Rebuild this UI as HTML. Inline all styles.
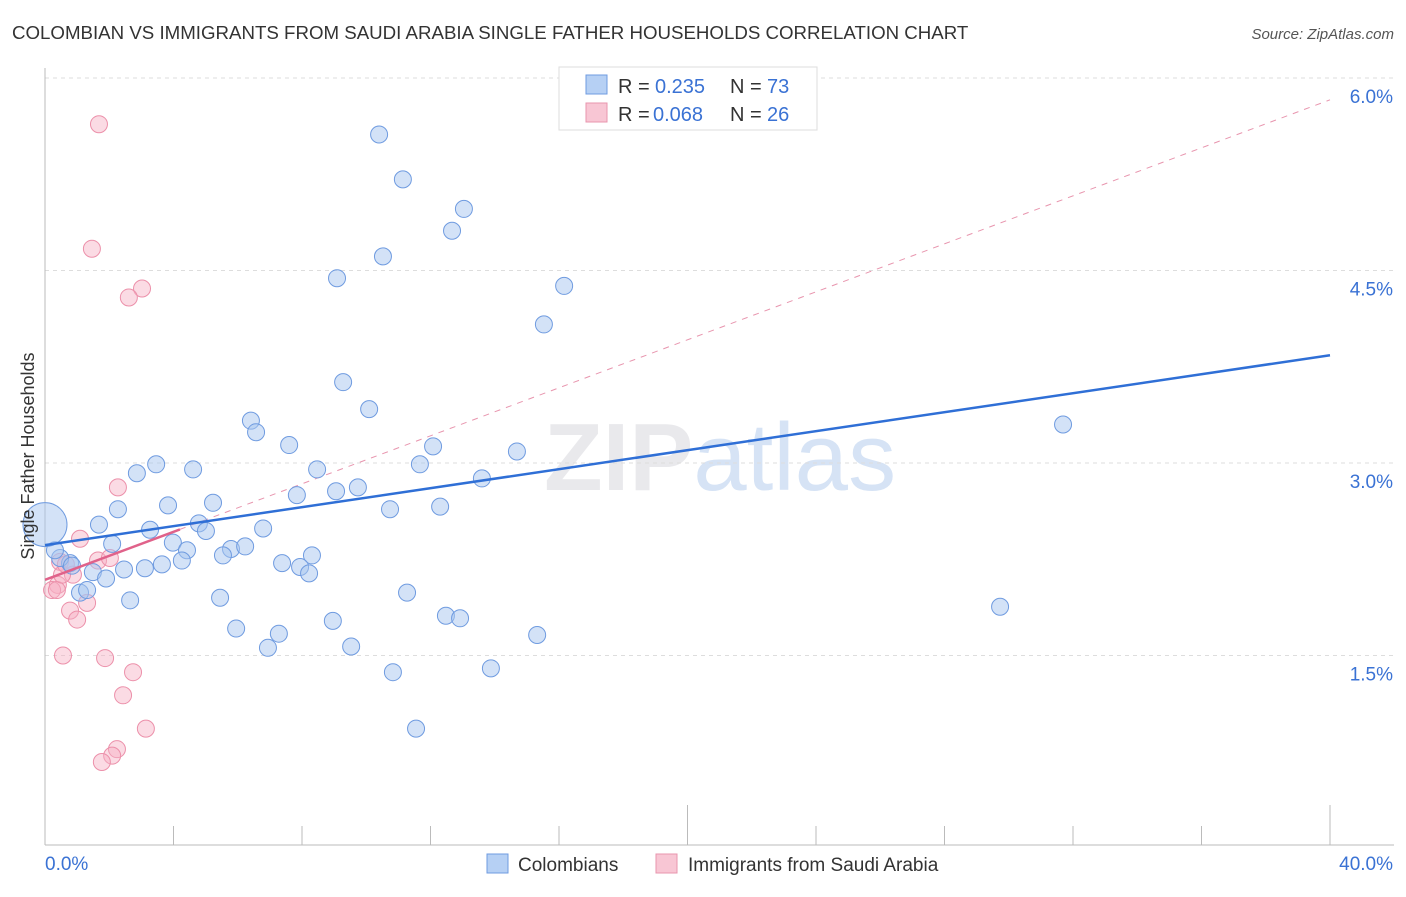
<!DOCTYPE html>
<html><head><meta charset="utf-8"><style>
body{margin:0;background:#fff;font-family:"Liberation Sans",sans-serif;}
svg text{font-family:"Liberation Sans",sans-serif;}
</style></head><body>
<svg id="chart" width="1406" height="892" xmlns="http://www.w3.org/2000/svg">
<text x="12" y="39" font-size="18.7" fill="#333">COLOMBIAN VS IMMIGRANTS FROM SAUDI ARABIA SINGLE FATHER HOUSEHOLDS CORRELATION CHART</text>
<text x="1394" y="39" font-size="15" fill="#555" font-style="italic" text-anchor="end">Source: ZipAtlas.com</text>
<text x="720" y="490" font-size="96" text-anchor="middle" fill="#e9e9ec" font-family="Liberation Serif"><tspan font-weight="bold">ZIP</tspan><tspan fill="#d6e3f5" font-family="Liberation Sans">atlas</tspan></text>
<g id="grid"></g>
<g id="axes"></g>
<g id="trend"></g>
<g id="points"></g>
<text transform="translate(34,456) rotate(-90)" font-size="18" fill="#333" text-anchor="middle">Single Father Households</text>
<g>
<rect x="559" y="67" width="258" height="63" fill="#fff" stroke="#ddd"/>
<rect x="586" y="75" width="21" height="19" fill="#b6d0f4" stroke="#6f9be0"/>
<rect x="586" y="103" width="21" height="19" fill="#f8c6d4" stroke="#e895ae"/>
<text x="618" y="93" font-size="20" fill="#333">R =</text>
<text x="655" y="93" font-size="20" fill="#3a72d4">0.235</text>
<text x="730" y="93" font-size="20" fill="#333">N =</text>
<text x="767" y="93" font-size="20" fill="#3a72d4">73</text>
<text x="618" y="121" font-size="20" fill="#333">R =</text>
<text x="653" y="121" font-size="20" fill="#3a72d4">0.068</text>
<text x="730" y="121" font-size="20" fill="#333">N =</text>
<text x="767" y="121" font-size="20" fill="#3a72d4">26</text>
</g>
<g>
<rect x="487" y="854" width="21" height="19" fill="#b6d0f4" stroke="#6f9be0"/>
<text x="518" y="871" font-size="19" fill="#333">Colombians</text>
<rect x="656" y="854" width="21" height="19" fill="#f8c6d4" stroke="#e895ae"/>
<text x="688" y="871" font-size="19" fill="#333">Immigrants from Saudi Arabia</text>
</g>
</svg>
<script>
const xTicks=[0,40];
const yTicks=[1.5,3.0,4.5,6.0];
const blueX=[10.40,11.14,13.04,12.67,10.52,9.09,16.16,15.53,9.28,10.09,31.69,6.41,6.57,7.60,12.08,14.69,3.46,4.61,2.86,11.67,8.47,13.60,9.74,9.06,7.84,5.23,3.83,2.27,12.30,10.74,1.68,4.79,3.27,6.79,5.01,2.09,3.98,4.42,5.79,6.23,5.54,8.31,4.26,7.38,3.64,3.11,2.46,7.94,8.22,1.49,1.90,0.78,0.47,0.84,0.31,1.09,2.65,5.45,11.27,29.73,12.48,12.92,8.96,5.95,7.28,15.32,6.94,9.53,10.83,13.88,11.55,1.31,0];
const blueY=[5.56,5.21,4.98,4.81,4.61,4.44,4.38,4.08,3.63,3.42,3.30,3.33,3.24,3.14,3.13,3.09,2.99,2.95,2.92,2.99,2.95,2.88,2.81,2.78,2.75,2.69,2.67,2.64,2.66,2.64,2.52,2.53,2.48,2.49,2.47,2.37,2.38,2.32,2.33,2.35,2.28,2.28,2.24,2.22,2.21,2.18,2.17,2.19,2.14,2.15,2.10,2.22,2.26,2.20,2.32,1.99,1.93,1.95,1.99,1.88,1.81,1.79,1.77,1.71,1.67,1.66,1.56,1.57,1.37,1.40,0.93,2.01,2.52];
const pinkX=[1.68,1.46,3.02,2.61,2.27,1.09,1.65,2.02,0.47,0.87,0.40,0.22,0.37,1.31,0.78,1.00,0.56,1.87,2.74,2.43,3.14,2.24,2.09,1.77,0.53,0.65];
const pinkY=[5.64,4.67,4.36,4.29,2.81,2.41,2.24,2.26,2.23,2.13,2.05,2.01,2.01,1.91,1.85,1.78,1.50,1.48,1.37,1.19,0.93,0.77,0.72,0.67,2.13,2.21];
const blueTrend=[2.36,3.84];
const pinkTrend=[2.09,5.83];
const pinkSolidEnd=[4.2];
const NS="http://www.w3.org/2000/svg";
const sx=v=>45+v*32.125, sy=v=>848-v*128.33;
function mk(tag,attrs,parent){const e=document.createElementNS(NS,tag);for(const k in attrs)e.setAttribute(k,attrs[k]);parent.appendChild(e);return e;}
const grid=document.getElementById('grid'),axes=document.getElementById('axes'),trend=document.getElementById('trend'),pts=document.getElementById('points');
yTicks.forEach(t=>{const l=mk('line',{x1:45,x2:1394,y1:sy(t),y2:sy(t),stroke:'#ddd','stroke-dasharray':'4,4'},grid);


const tx=mk('text',{x:1393,y:sy(t)+25,'font-size':19,fill:'#3a72d4','text-anchor':'end'},grid);tx.textContent=t.toFixed(1)+'%';

});
const ax=mk('line',{x1:45,x2:1394,y1:845,y2:845,stroke:'#bbb'},axes);


const ay=mk('line',{x1:45,x2:45,y1:68,y2:845,stroke:'#bbb'},axes);


for(let i=1;i<=10;i++){const v=i*4;const tl=mk('line',{x1:sx(v),x2:sx(v),y1:(i==5||i==10)?805:826,y2:845,stroke:'#bbb'},axes);

}
xTicks.forEach((t,i)=>{const tx=mk('text',{x:i==0?45:1393,y:870,'font-size':19,fill:'#3a72d4','text-anchor':i==0?'start':'end'},axes);tx.textContent=t.toFixed(1)+'%';

});
const pd=mk('line',{x1:sx(0),y1:sy(pinkTrend[0]),x2:sx(40),y2:sy(pinkTrend[1]),stroke:'#e895ae','stroke-dasharray':'6,6','stroke-width':1},trend);


for(let i=0;i<pinkX.length;i++){const c=mk('circle',{cx:sx(pinkX[i]),cy:sy(pinkY[i]),r:8.5,fill:'rgba(246,176,196,0.45)',stroke:'#ec90aa','stroke-width':1},pts);

}
for(let i=0;i<blueX.length;i++){const big=i==blueX.length-1;const c=mk('circle',{cx:sx(blueX[i]),cy:sy(blueY[i]),r:big?22:8.5,fill:'rgba(168,198,240,0.5)',stroke:'#6f9be0','stroke-width':1},pts);

}
const bt=mk('line',{x1:sx(0),y1:sy(blueTrend[0]),x2:sx(40),y2:sy(blueTrend[1]),stroke:'#2f6fd6','stroke-width':2.5},pts);


const slope=(pinkTrend[1]-pinkTrend[0])/40;
const ps=mk('line',{x1:sx(0),y1:sy(pinkTrend[0]),x2:sx(pinkSolidEnd[0]),y2:sy(pinkTrend[0]+slope*pinkSolidEnd[0]),stroke:'#e0628a','stroke-width':2.5},pts);


</script>
</body></html>
